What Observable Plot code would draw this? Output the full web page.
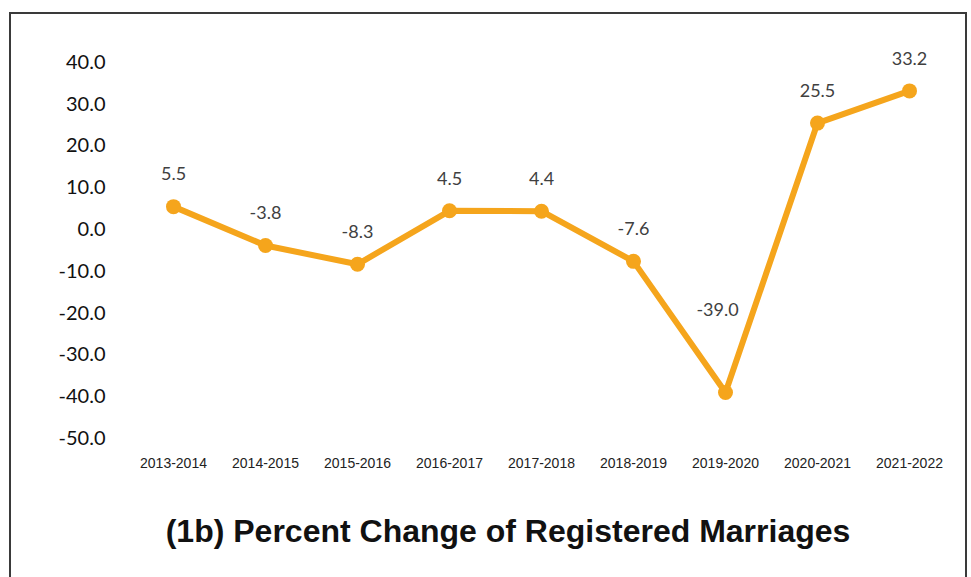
<!DOCTYPE html>
<html>
<head>
<meta charset="utf-8">
<script src="https://cdn.jsdelivr.net/npm/d3@7"></script>
<script src="https://cdn.jsdelivr.net/npm/@observablehq/plot@0.6"></script>
<style>
  html, body { margin: 0; padding: 0; background: #fff; }
  body { width: 971px; height: 577px; position: relative; overflow: hidden; }
  #frame { position: absolute; left: 9px; top: 12px; width: 958px; height: 580px; border: 2px solid #3a3a3a; box-sizing: border-box; }
  #chart { position: absolute; left: 0; top: 0; }
  #title { position: absolute; left: 0; width: 1016px; top: 515px; line-height: 32px; text-align: center;
           font-family: "Liberation Sans", Arial, sans-serif; font-weight: bold; font-size: 32px; color: #111; }
</style>
</head>
<body>
<div id="frame"></div>
<div id="chart"></div>
<div id="title">(1b) Percent Change of Registered Marriages</div>
<script>
const periods = ["2013-2014","2014-2015","2015-2016","2016-2017","2017-2018","2018-2019","2019-2020","2020-2021","2021-2022"];
const percentChange = [5.5, -3.8, -8.3, 4.5, 4.4, -7.6, -39.0, 25.5, 33.2];
const yTicks = [-50, -40, -30, -20, -10, 0, 10, 20, 30, 40];

const data = periods.map((p, i) => ({period: p, value: percentChange[i]}));
const orange = "#F5A51C";
const labelFont = "Lato, 'Open Sans', sans-serif";

const chart = Plot.plot({
  width: 971,
  height: 490,
  marginLeft: 110,
  marginBottom: 35,
  style: {background: "transparent"},
  x: {type: "point", domain: periods, range: [170, 911], padding: 0},
  y: {domain: [-50, 40], range: [438, 62]},
  marks: [
    Plot.axisY({ticks: yTicks, tickSize: 0, tickPadding: 5, tickFormat: d => d.toFixed(1),
      fontSize: 20, fontFamily: labelFont, fill: "#111", label: null}),
    Plot.axisX({tickSize: 0, tickPadding: 3, fontSize: 14, fontFamily: "'Liberation Sans', Arial, sans-serif",
      fill: "#222", label: null, style: {letterSpacing: "0.8px"}}),
    Plot.line(data, {x: "period", y: "value", stroke: orange, strokeWidth: 6, strokeLinejoin: "round"}),
    Plot.dot(data, {x: "period", y: "value", r: 7.5, fill: orange, stroke: "none"}),
    Plot.text(data.filter(d => d.value > -30), {x: "period", y: "value", text: d => d.value.toFixed(1), dy: -32,
      fontSize: 18, fontFamily: labelFont, fill: "#404040"}),
    Plot.text(data.filter(d => d.value <= -30), {x: "period", y: "value", text: d => d.value.toFixed(1), dy: -82, dx: -8,
      fontSize: 18, fontFamily: labelFont, fill: "#404040"})
  ]
});
document.getElementById("chart").appendChild(chart);
</script>
</body>
</html>
